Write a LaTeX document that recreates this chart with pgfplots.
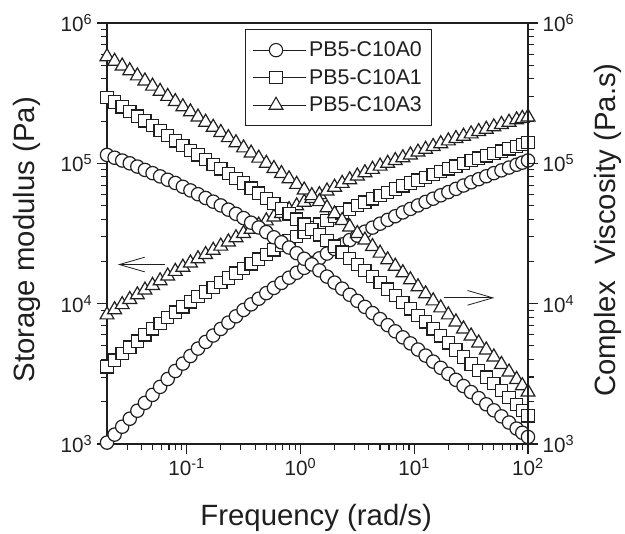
\documentclass[border=0pt]{standalone}
\usepackage{fontspec}
\setmainfont{Liberation Sans}
\usepackage{pgfplots}
\usepackage{pgfplotstable}
\pgfplotsset{compat=1.18}
\usetikzlibrary{arrows.meta}

% log10 of frequency, storage modulus G' (g*) and complex viscosity (e*)
\pgfplotstableread{
lx      g0    g1    g3    e0    e1    e3
-1.7000 3.010 3.550 3.920 5.060 5.470 5.760
-1.6333 3.067 3.597 3.957 5.040 5.437 5.727
-1.5667 3.123 3.643 3.993 5.020 5.403 5.693
-1.5000 3.180 3.690 4.030 5.000 5.370 5.660
-1.4333 3.237 3.733 4.063 4.977 5.337 5.623
-1.3667 3.293 3.777 4.097 4.953 5.303 5.587
-1.3000 3.350 3.820 4.130 4.930 5.270 5.550
-1.2333 3.407 3.860 4.163 4.907 5.233 5.513
-1.1667 3.463 3.900 4.197 4.883 5.197 5.477
-1.1000 3.520 3.940 4.230 4.860 5.160 5.440
-1.0333 3.573 3.977 4.260 4.833 5.127 5.403
-0.9667 3.627 4.013 4.290 4.807 5.093 5.367
-0.9000 3.680 4.050 4.320 4.780 5.060 5.330
-0.8333 3.727 4.083 4.350 4.753 5.027 5.293
-0.7667 3.773 4.117 4.380 4.727 4.993 5.257
-0.7000 3.820 4.150 4.410 4.700 4.960 5.220
-0.6333 3.865 4.183 4.440 4.670 4.927 5.183
-0.5667 3.910 4.217 4.470 4.640 4.893 5.147
-0.5000 3.955 4.250 4.500 4.610 4.860 5.110
-0.4333 3.995 4.283 4.530 4.577 4.823 5.073
-0.3667 4.035 4.317 4.560 4.543 4.787 5.037
-0.3000 4.075 4.350 4.590 4.510 4.750 5.000
-0.2333 4.112 4.383 4.617 4.473 4.713 4.963
-0.1667 4.148 4.417 4.643 4.437 4.677 4.927
-0.1000 4.185 4.450 4.670 4.400 4.640 4.890
-0.0333 4.220 4.480 4.697 4.360 4.603 4.850
0.0333  4.255 4.510 4.723 4.320 4.567 4.810
0.1000  4.290 4.540 4.750 4.280 4.530 4.770
0.1667  4.323 4.567 4.777 4.237 4.490 4.727
0.2333  4.357 4.593 4.803 4.193 4.450 4.683
0.3000  4.390 4.620 4.830 4.150 4.410 4.640
0.3667  4.422 4.647 4.857 4.107 4.367 4.593
0.4333  4.453 4.673 4.883 4.063 4.323 4.547
0.5000  4.485 4.700 4.910 4.020 4.280 4.500
0.5667  4.513 4.723 4.933 3.977 4.237 4.453
0.6333  4.542 4.747 4.957 3.933 4.193 4.407
0.7000  4.570 4.770 4.980 3.890 4.150 4.360
0.7667  4.597 4.793 5.000 3.847 4.103 4.313
0.8333  4.623 4.817 5.020 3.803 4.057 4.267
0.9000  4.650 4.840 5.040 3.760 4.010 4.220
0.9667  4.675 4.860 5.060 3.717 3.963 4.170
1.0333  4.700 4.880 5.080 3.673 3.917 4.120
1.1000  4.725 4.900 5.100 3.630 3.870 4.070
1.1667  4.748 4.920 5.120 3.587 3.820 4.020
1.2333  4.772 4.940 5.140 3.543 3.770 3.970
1.3000  4.795 4.960 5.160 3.500 3.720 3.920
1.3667  4.818 4.980 5.177 3.457 3.670 3.870
1.4333  4.842 5.000 5.193 3.413 3.620 3.820
1.5000  4.865 5.020 5.210 3.370 3.570 3.770
1.5667  4.887 5.037 5.227 3.327 3.523 3.720
1.6333  4.908 5.053 5.243 3.283 3.477 3.670
1.7000  4.930 5.070 5.260 3.240 3.430 3.620
1.7667  4.950 5.087 5.277 3.197 3.380 3.567
1.8333  4.970 5.103 5.293 3.153 3.330 3.513
1.9000  4.990 5.120 5.310 3.110 3.280 3.460
1.9500  5.005 5.135 5.320 3.080 3.240 3.415
2.0000  5.020 5.150 5.330 3.050 3.200 3.370
}\data

\definecolor{ink}{gray}{0.12}

\begin{document}
\begin{tikzpicture}
\useasboundingbox (0,0) rectangle (468.75pt,400.5pt);

\begin{axis}[
    width=315.75pt, height=315.75pt, scale only axis,
    at={(80.25pt,67.5pt)}, anchor=south west,
    xmode=log, ymode=log,
    xmin=0.01995, xmax=100, ymin=1000, ymax=1000000,
    clip=false,
    axis line style={ink, line width=1pt},
    tick align=outside,
    major tick length=7.5pt, minor tick length=4.5pt,
    every tick/.style={ink, line width=0.8pt},
    xtick pos=bottom, ytick pos=left,
    xtick={0.1,1,10,100},
    xticklabels={10\textsuperscript{-1},10\textsuperscript{0},10\textsuperscript{1},10\textsuperscript{2}},
    minor xtick={0.02,0.03,0.04,0.05,0.06,0.07,0.08,0.09,0.2,0.3,0.4,0.5,0.6,0.7,0.8,0.9,2,3,4,5,6,7,8,9,20,30,40,50,60,70,80,90},
    ytick={1000,10000,100000,1000000},
    yticklabels={10\textsuperscript{3},10\textsuperscript{4},10\textsuperscript{5},10\textsuperscript{6}},
    minor ytick={2000,3000,4000,5000,6000,7000,8000,9000,20000,30000,40000,50000,60000,70000,80000,90000,200000,300000,400000,500000,600000,700000,800000,900000},
    tick label style={font=\fontsize{15.5}{17}\selectfont, text=ink},
    xlabel={Frequency (rad/s)},
    ylabel={Storage modulus (Pa)},
    every axis x label/.style={at={(axis description cs:0.497,-0.176)}, anchor=center, font=\fontsize{22}{24}\selectfont, text=ink},
    every axis y label/.style={at={(axis description cs:-0.19,0.485)}, rotate=90, anchor=center, font=\fontsize{22}{24}\selectfont, text=ink},
    legend style={at={(0.328,0.985)}, anchor=north west, draw=ink, line width=0.6pt,
      font=\fontsize{16}{17}\selectfont, text=ink, inner xsep=5pt, inner ysep=7pt,
      /tikz/row sep=4pt, cells={anchor=west}},
    legend image code/.code={%
      \path (0pt,0pt) -- (40pt,0pt);
      \draw[mark repeat=2, mark phase=2, #1] plot coordinates {(0pt,0pt) (17.5pt,0pt) (35pt,0pt)};},
  ]
  \addlegendimage{ink, line width=0.8pt, mark=*, mark size=5pt, mark options={fill=white, draw=ink}}
  \addlegendentry{PB5-C10A0}
  \addlegendimage{ink, line width=0.8pt, mark=square*, mark size=4.6pt, mark options={fill=white, draw=ink}}
  \addlegendentry{PB5-C10A1}
  \addlegendimage{ink, line width=0.8pt, mark=triangle*, mark size=6pt, mark options={fill=white, draw=ink}}
  \addlegendentry{PB5-C10A3}

  \addplot[only marks, mark=*, mark size=5pt, mark options={fill=white, draw=ink, line width=0.9pt}, forget plot]
    table[x expr={10^(\thisrow{lx})}, y expr={10^(\thisrow{g0})}] {\data};
  \addplot[only marks, mark=square*, mark size=4.6pt, mark options={fill=white, draw=ink, line width=0.9pt}, forget plot]
    table[x expr={10^(\thisrow{lx})}, y expr={10^(\thisrow{g1})}] {\data};
  \addplot[only marks, mark=triangle*, mark size=6pt, mark options={fill=white, draw=ink, line width=0.9pt}, forget plot]
    table[x expr={10^(\thisrow{lx})}, y expr={10^(\thisrow{g3})}] {\data};
  \addplot[only marks, mark=*, mark size=5pt, mark options={fill=white, draw=ink, line width=0.9pt}, forget plot]
    table[x expr={10^(\thisrow{lx})}, y expr={10^(\thisrow{e0})}] {\data};
  \addplot[only marks, mark=square*, mark size=4.6pt, mark options={fill=white, draw=ink, line width=0.9pt}, forget plot]
    table[x expr={10^(\thisrow{lx})}, y expr={10^(\thisrow{e1})}] {\data};
  \addplot[only marks, mark=triangle*, mark size=6pt, mark options={fill=white, draw=ink, line width=0.9pt}, forget plot]
    table[x expr={10^(\thisrow{lx})}, y expr={10^(\thisrow{e3})}] {\data};

  % arrows showing which axis each family belongs to
  \draw[ink, line width=0.6pt, -{Straight Barb[length=19pt, width=11pt]}] (axis cs:0.0644,19000) -- (axis cs:0.0249,19000);
  \draw[ink, line width=0.6pt, -{Straight Barb[length=19pt, width=11pt]}] (axis cs:18.4,11000) -- (axis cs:50.6,11000);
\end{axis}

\begin{axis}[
    width=315.75pt, height=315.75pt, scale only axis,
    at={(80.25pt,67.5pt)}, anchor=south west,
    xmode=log, ymode=log,
    xmin=0.01995, xmax=100, ymin=1000, ymax=1000000,
    hide x axis,
    axis y line*=right,
    y axis line style={ink, line width=1pt, -},
    tick align=outside,
    major tick length=7.5pt, minor tick length=4.5pt,
    every tick/.style={ink, line width=0.8pt},
    ytick={1000,10000,100000,1000000},
    yticklabels={10\textsuperscript{3},10\textsuperscript{4},10\textsuperscript{5},10\textsuperscript{6}},
    minor ytick={2000,3000,4000,5000,6000,7000,8000,9000,20000,30000,40000,50000,60000,70000,80000,90000,200000,300000,400000,500000,600000,700000,800000,900000},
    tick label style={font=\fontsize{15.5}{17}\selectfont, text=ink},
    ylabel={Complex\ \ Viscosity (Pa.s)},
    every axis y label/.style={at={(axis description cs:1.19,0.508)}, rotate=90, anchor=center, font=\fontsize{22}{24}\selectfont, text=ink},
  ]
\end{axis}
\end{tikzpicture}
\end{document}
